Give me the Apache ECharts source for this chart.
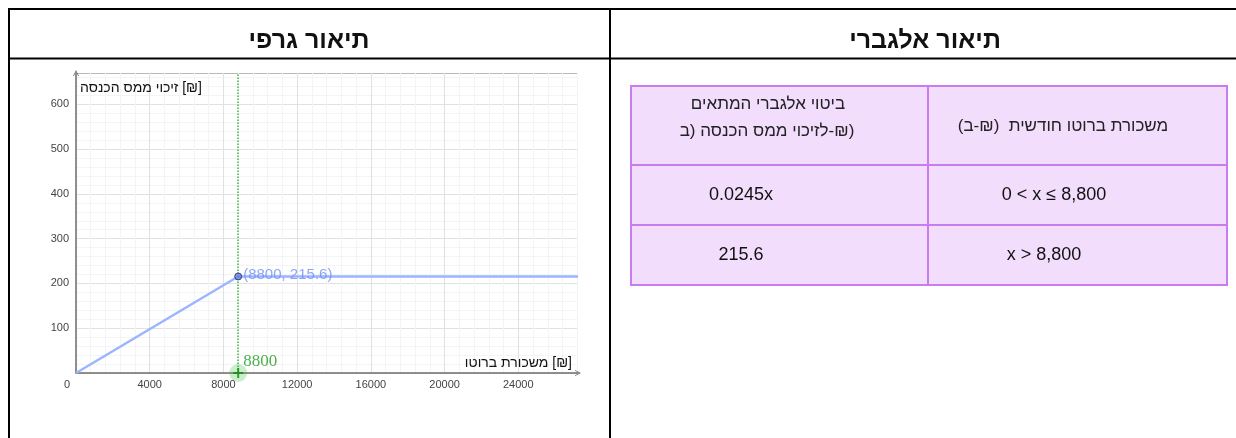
<!DOCTYPE html>
<html><head><meta charset="utf-8">
<script src="https://cdn.jsdelivr.net/npm/echarts@6/dist/echarts.min.js"></script>
<style>html,body{margin:0;padding:0;background:#fff}#c{width:1236px;height:438px}</style>
</head><body><div id="c"></div>
<script>
// ---- data ----
const lineX = [0, 8800, 27240];          // gross salary (x) points of the credit function
const lineY = [0, 215.6, 215.6];         // income-tax credit
const keyPoint = [8800, 215.6];
const keyLabel = '(8800, 215.6)';
const markerX = 8800;
const markerLabel = '8800';
const xMax = 27240, yMax = 670;
const xTickStep = 4000, yTickStep = 100;
const headerGraph = 'תיאור גרפי';
const headerAlg = 'תיאור אלגברי';
const yName = '[₪] זיכוי ממס הכנסה';
const xName = '[₪] משכורת ברוטו';
const tableHeadLeft = ['ביטוי אלגברי המתאים', '(₪-לזיכוי ממס הכנסה (ב'];
const tableHeadRight = 'משכורת ברוטו חודשית  (₪-ב)';
const exprCol = ['0.0245x', '215.6'];
const rangeCol = ['0 < x ≤ 8,800', 'x > 8,800'];

const RLM = '\u200F';
const rtl = s => RLM + s + RLM;
const FONT = '"Liberation Sans", Arial, "DejaVu Sans", sans-serif';

const chart = echarts.init(document.getElementById('c'), null, {renderer: 'canvas'});

const border = {stroke: '#000', lineWidth: 2};
const cellFill = '#f3ddfd', cellStroke = '#c97cef';
const tbl = {x0: 631, x1: 928, x2: 1227, y: [86, 165, 225, 285]};
const graphics = [
  {type: 'line', shape: {x1: 8, y1: 9, x2: 1236, y2: 9}, style: border, silent: true},
  {type: 'line', shape: {x1: 8, y1: 58.5, x2: 1236, y2: 58.5}, style: border, silent: true},
  {type: 'line', shape: {x1: 9, y1: 8, x2: 9, y2: 438}, style: border, silent: true},
  {type: 'line', shape: {x1: 610, y1: 8, x2: 610, y2: 438}, style: border, silent: true},
  {type: 'text', x: 309, y: 41, style: {text: rtl(headerGraph), font: 'bold 25px ' + FONT, fill: '#111', textAlign: 'center', textVerticalAlign: 'middle'}},
  {type: 'text', x: 925, y: 41, style: {text: rtl(headerAlg), font: 'bold 25px ' + FONT, fill: '#111', textAlign: 'center', textVerticalAlign: 'middle'}}
];
// table cells
for (let r = 0; r < 3; r++) {
  const y0 = tbl.y[r], y1 = tbl.y[r + 1];
  graphics.push({type: 'rect', shape: {x: tbl.x0, y: y0, width: tbl.x1 - tbl.x0, height: y1 - y0}, style: {fill: cellFill, stroke: cellStroke, lineWidth: 2}, silent: true});
  graphics.push({type: 'rect', shape: {x: tbl.x1, y: y0, width: tbl.x2 - tbl.x1, height: y1 - y0}, style: {fill: cellFill, stroke: cellStroke, lineWidth: 2}, silent: true});
}
const hebCell = '17px ' + FONT;
graphics.push({type: 'text', x: 768, y: 104, style: {text: rtl(tableHeadLeft[0]), font: hebCell, fill: '#222', textAlign: 'center', textVerticalAlign: 'middle'}});
graphics.push({type: 'text', x: 767, y: 131, style: {text: rtl(tableHeadLeft[1]), font: hebCell, fill: '#222', textAlign: 'center', textVerticalAlign: 'middle'}});
graphics.push({type: 'text', x: 1063, y: 126, style: {text: rtl(tableHeadRight), font: hebCell, fill: '#222', textAlign: 'center', textVerticalAlign: 'middle'}});
const numFont = '18px ' + FONT;
const rowMid = [195, 255];
for (let i = 0; i < exprCol.length; i++) {
  graphics.push({type: 'text', x: 741, y: rowMid[i], style: {text: exprCol[i], font: numFont, fill: '#111', textAlign: 'center', textVerticalAlign: 'middle'}});
  graphics.push({type: 'text', x: [1054, 1044][i], y: rowMid[i], style: {text: rangeCol[i], font: numFont, fill: '#111', textAlign: 'center', textVerticalAlign: 'middle'}});
}

const chevron = 'path://M0,10 L5,0 L10,10 L8.6,10 L5,2.8 L1.4,10 Z';
const axisCommon = {
  type: 'value', min: 0,
  axisTick: {show: false},
  minorTick: {show: false, splitNumber: 5},
  minorSplitLine: {show: true, lineStyle: {color: '#f4f4f4', width: 1}},
  axisLine: {show: true, onZero: false, symbol: ['none', chevron], symbolSize: [8, 6], lineStyle: {color: '#6e6e6e', width: 1.5}}
};

chart.setOption({
  animation: false,
  grid: {left: 76, top: 73, right: 658, bottom: 65, containLabel: false},
  xAxis: Object.assign({}, axisCommon, {
    max: xMax, interval: xTickStep,
    splitLine: {show: true, showMaxLine: false, lineStyle: {color: '#e1e1e1', width: 1}},
    axisLabel: {color: '#444', fontSize: 11, fontFamily: FONT, margin: 6, showMaxLabel: false,
      formatter: v => v === 0 ? '{z|0}' : (v % xTickStep === 0 ? String(v) : ''),
      rich: {z: {color: '#444', fontSize: 11, fontFamily: FONT, padding: [0, 18, 0, 0]}}},
    name: rtl(xName), nameLocation: 'end', nameGap: -6,
    nameTextStyle: {align: 'right', verticalAlign: 'bottom', padding: [0, 0, 3, 0], fontSize: 14, fontFamily: FONT, color: '#111'}
  }),
  yAxis: Object.assign({}, axisCommon, {
    max: yMax, interval: yTickStep,
    splitLine: {show: true, lineStyle: {color: ['#e1e1e1', '#e1e1e1', '#e1e1e1', '#e1e1e1', '#e1e1e1', '#e1e1e1', '#e1e1e1', '#b8b8b8'], width: 1}},
    axisLabel: {color: '#444', fontSize: 11, fontFamily: FONT, margin: 7, showMaxLabel: false,
      formatter: v => (v !== 0 && v % yTickStep === 0) ? String(v) : ''},
    name: rtl(yName), nameLocation: 'end', nameGap: -15,
    nameTextStyle: {align: 'left', verticalAlign: 'middle', padding: [0, 0, 0, 4], fontSize: 14, fontFamily: FONT, color: '#111'}
  }),
  series: [
    {type: 'line', data: lineX.map((x, i) => [x, lineY[i]]), showSymbol: false, symbol: 'none',
      lineStyle: {color: '#9bb5ff', width: 2.5}, z: 3, silent: true,
      markLine: {silent: true, symbol: 'none', label: {show: false},
        lineStyle: {type: 'dotted', color: '#3cb43c', width: 1.5},
        data: [{xAxis: markerX}]}},
    {type: 'scatter', data: [keyPoint], symbolSize: 7, clip: false, z: 5,
      itemStyle: {color: '#6680dd', borderColor: '#1c2a66', borderWidth: 1},
      label: {show: true, position: 'right', distance: 1, offset: [0, -2], formatter: keyLabel, color: '#6f8ff8', fontSize: 15, fontFamily: FONT}},
    {type: 'scatter', data: [[markerX, 0]], symbolSize: 18, clip: false, z: 4,
      itemStyle: {color: 'rgba(70,190,70,0.35)'},
      label: {show: true, position: 'right', distance: 0, offset: [-4, -11], formatter: markerLabel,
        color: '#1e9e1e', fontSize: 17, fontFamily: '"Liberation Serif", "DejaVu Serif", serif'}},
    {type: 'scatter', data: [[markerX, 0]], symbol: 'path://M4,0 H6 V4 H10 V6 H6 V10 H4 V6 H0 V4 H4 Z', symbolSize: 10, clip: false, z: 6,
      itemStyle: {color: '#128a12'}}
  ],
  graphic: graphics
});
</script></body></html>
